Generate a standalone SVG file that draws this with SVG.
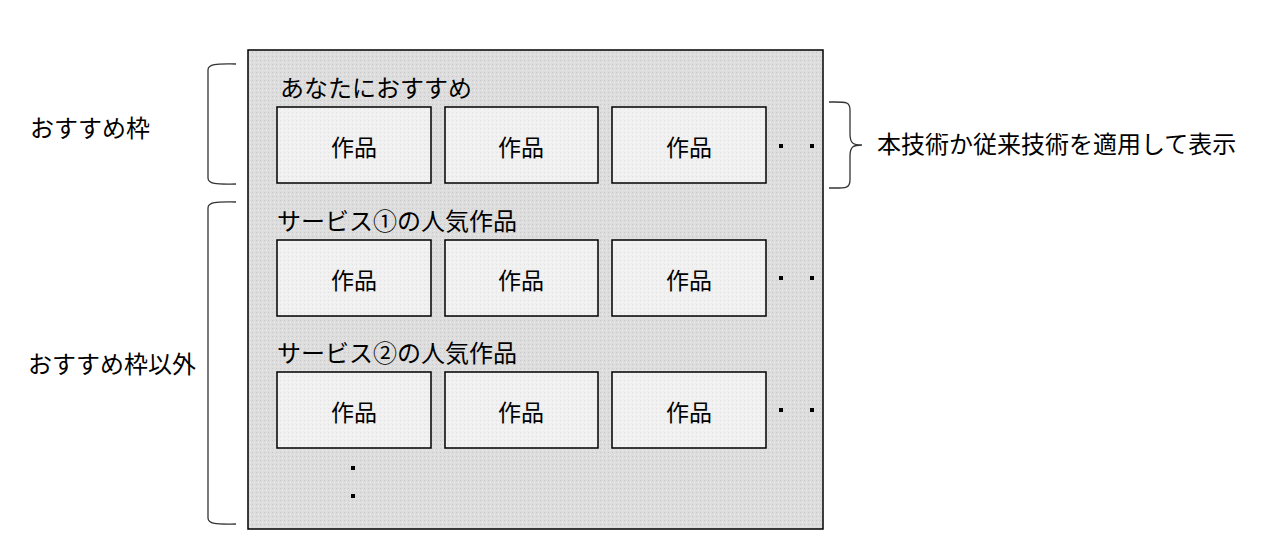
<svg xmlns="http://www.w3.org/2000/svg" width="1280" height="560" viewBox="0 0 1280 560">
<defs>
<pattern id="stip" width="4" height="4" patternUnits="userSpaceOnUse">
<rect width="4" height="4" fill="#dddddd"/>
<rect x="0" y="0" width="1" height="1" fill="#c8c8c8"/>
<rect x="2" y="2" width="1" height="1" fill="#ececec"/>
</pattern>
<pattern id="stip2" width="4" height="4" patternUnits="userSpaceOnUse">
<rect width="4" height="4" fill="#f0f0f0"/>
<rect x="0" y="0" width="1" height="1" fill="#e2e2e2"/>
<rect x="2" y="2" width="1" height="1" fill="#fafafa"/>
</pattern>
</defs>
<style>
text{font-family:"Noto Sans CJK JP","Noto Sans",sans-serif;fill:#000}
.lbl{font-size:24px}
.w{font-size:23px;text-anchor:middle;dominant-baseline:central}
.box{fill:url(#stip2);stroke:#000;stroke-width:1.5}
.br{fill:none;stroke:#333;stroke-width:1.3}
.dot{fill:#000}
</style>
<rect width="1280" height="560" fill="#fff"/>
<g id="panel">
<rect x="248" y="50" width="575" height="479" fill="url(#stip)" stroke="#000" stroke-width="1.5"/>
</g>
<g id="section1">
<text class="lbl" x="280" y="97">あなたにおすすめ</text>
</g>
<g id="section2">
<text class="lbl" x="277" y="230">サービス①の人気作品</text>
</g>
<g id="section3">
<text class="lbl" x="277" y="362">サービス②の人気作品</text>
</g>
<g id="row1">
<rect class="box" x="277" y="107" width="154" height="76"/><text class="w" x="354" y="146">作品</text>
<rect class="box" x="445" y="107" width="153" height="76"/><text class="w" x="521" y="146">作品</text>
<rect class="box" x="612" y="107" width="154" height="76"/><text class="w" x="689" y="146">作品</text>
<rect class="dot" x="779" y="144" width="4" height="4"/><rect class="dot" x="810" y="144" width="4" height="4"/>
</g>
<g id="row2">
<rect class="box" x="277" y="240" width="154" height="76"/><text class="w" x="354" y="279">作品</text>
<rect class="box" x="445" y="240" width="153" height="76"/><text class="w" x="521" y="279">作品</text>
<rect class="box" x="612" y="240" width="154" height="76"/><text class="w" x="689" y="279">作品</text>
<rect class="dot" x="779" y="276" width="4" height="4"/><rect class="dot" x="810" y="276" width="4" height="4"/>
</g>
<g id="row3">
<rect class="box" x="277" y="372" width="154" height="76"/><text class="w" x="354" y="411">作品</text>
<rect class="box" x="445" y="372" width="153" height="76"/><text class="w" x="521" y="411">作品</text>
<rect class="box" x="612" y="372" width="154" height="76"/><text class="w" x="689" y="411">作品</text>
<rect class="dot" x="779" y="408" width="4" height="4"/><rect class="dot" x="810" y="408" width="4" height="4"/>
<rect class="dot" x="351" y="466" width="4" height="4"/><rect class="dot" x="351" y="494" width="4" height="4"/>
</g>
<g id="connectors">
<path class="br" d="M236,64 C220,64 208,63 208,70 L208,178 C208,185 220,184 236,184"/>
<path class="br" d="M236,202 C220,202 208,201 208,208 L208,518 C208,525 220,524 236,524"/>
<path class="br" d="M829,102 C845,102 850,101 850,110 L850,134 C850,144 854,145 862,145 C854,145 850,146 850,156 L850,180 C850,189 845,188 829,188"/>
</g>
<g id="labelA"><text class="lbl" x="30" y="137">おすすめ枠</text></g>
<g id="labelB"><text class="lbl" x="28" y="373">おすすめ枠以外</text></g>
<g id="labelC"><text class="lbl" x="877" y="153">本技術か従来技術を適用して表示</text></g>
</svg>
